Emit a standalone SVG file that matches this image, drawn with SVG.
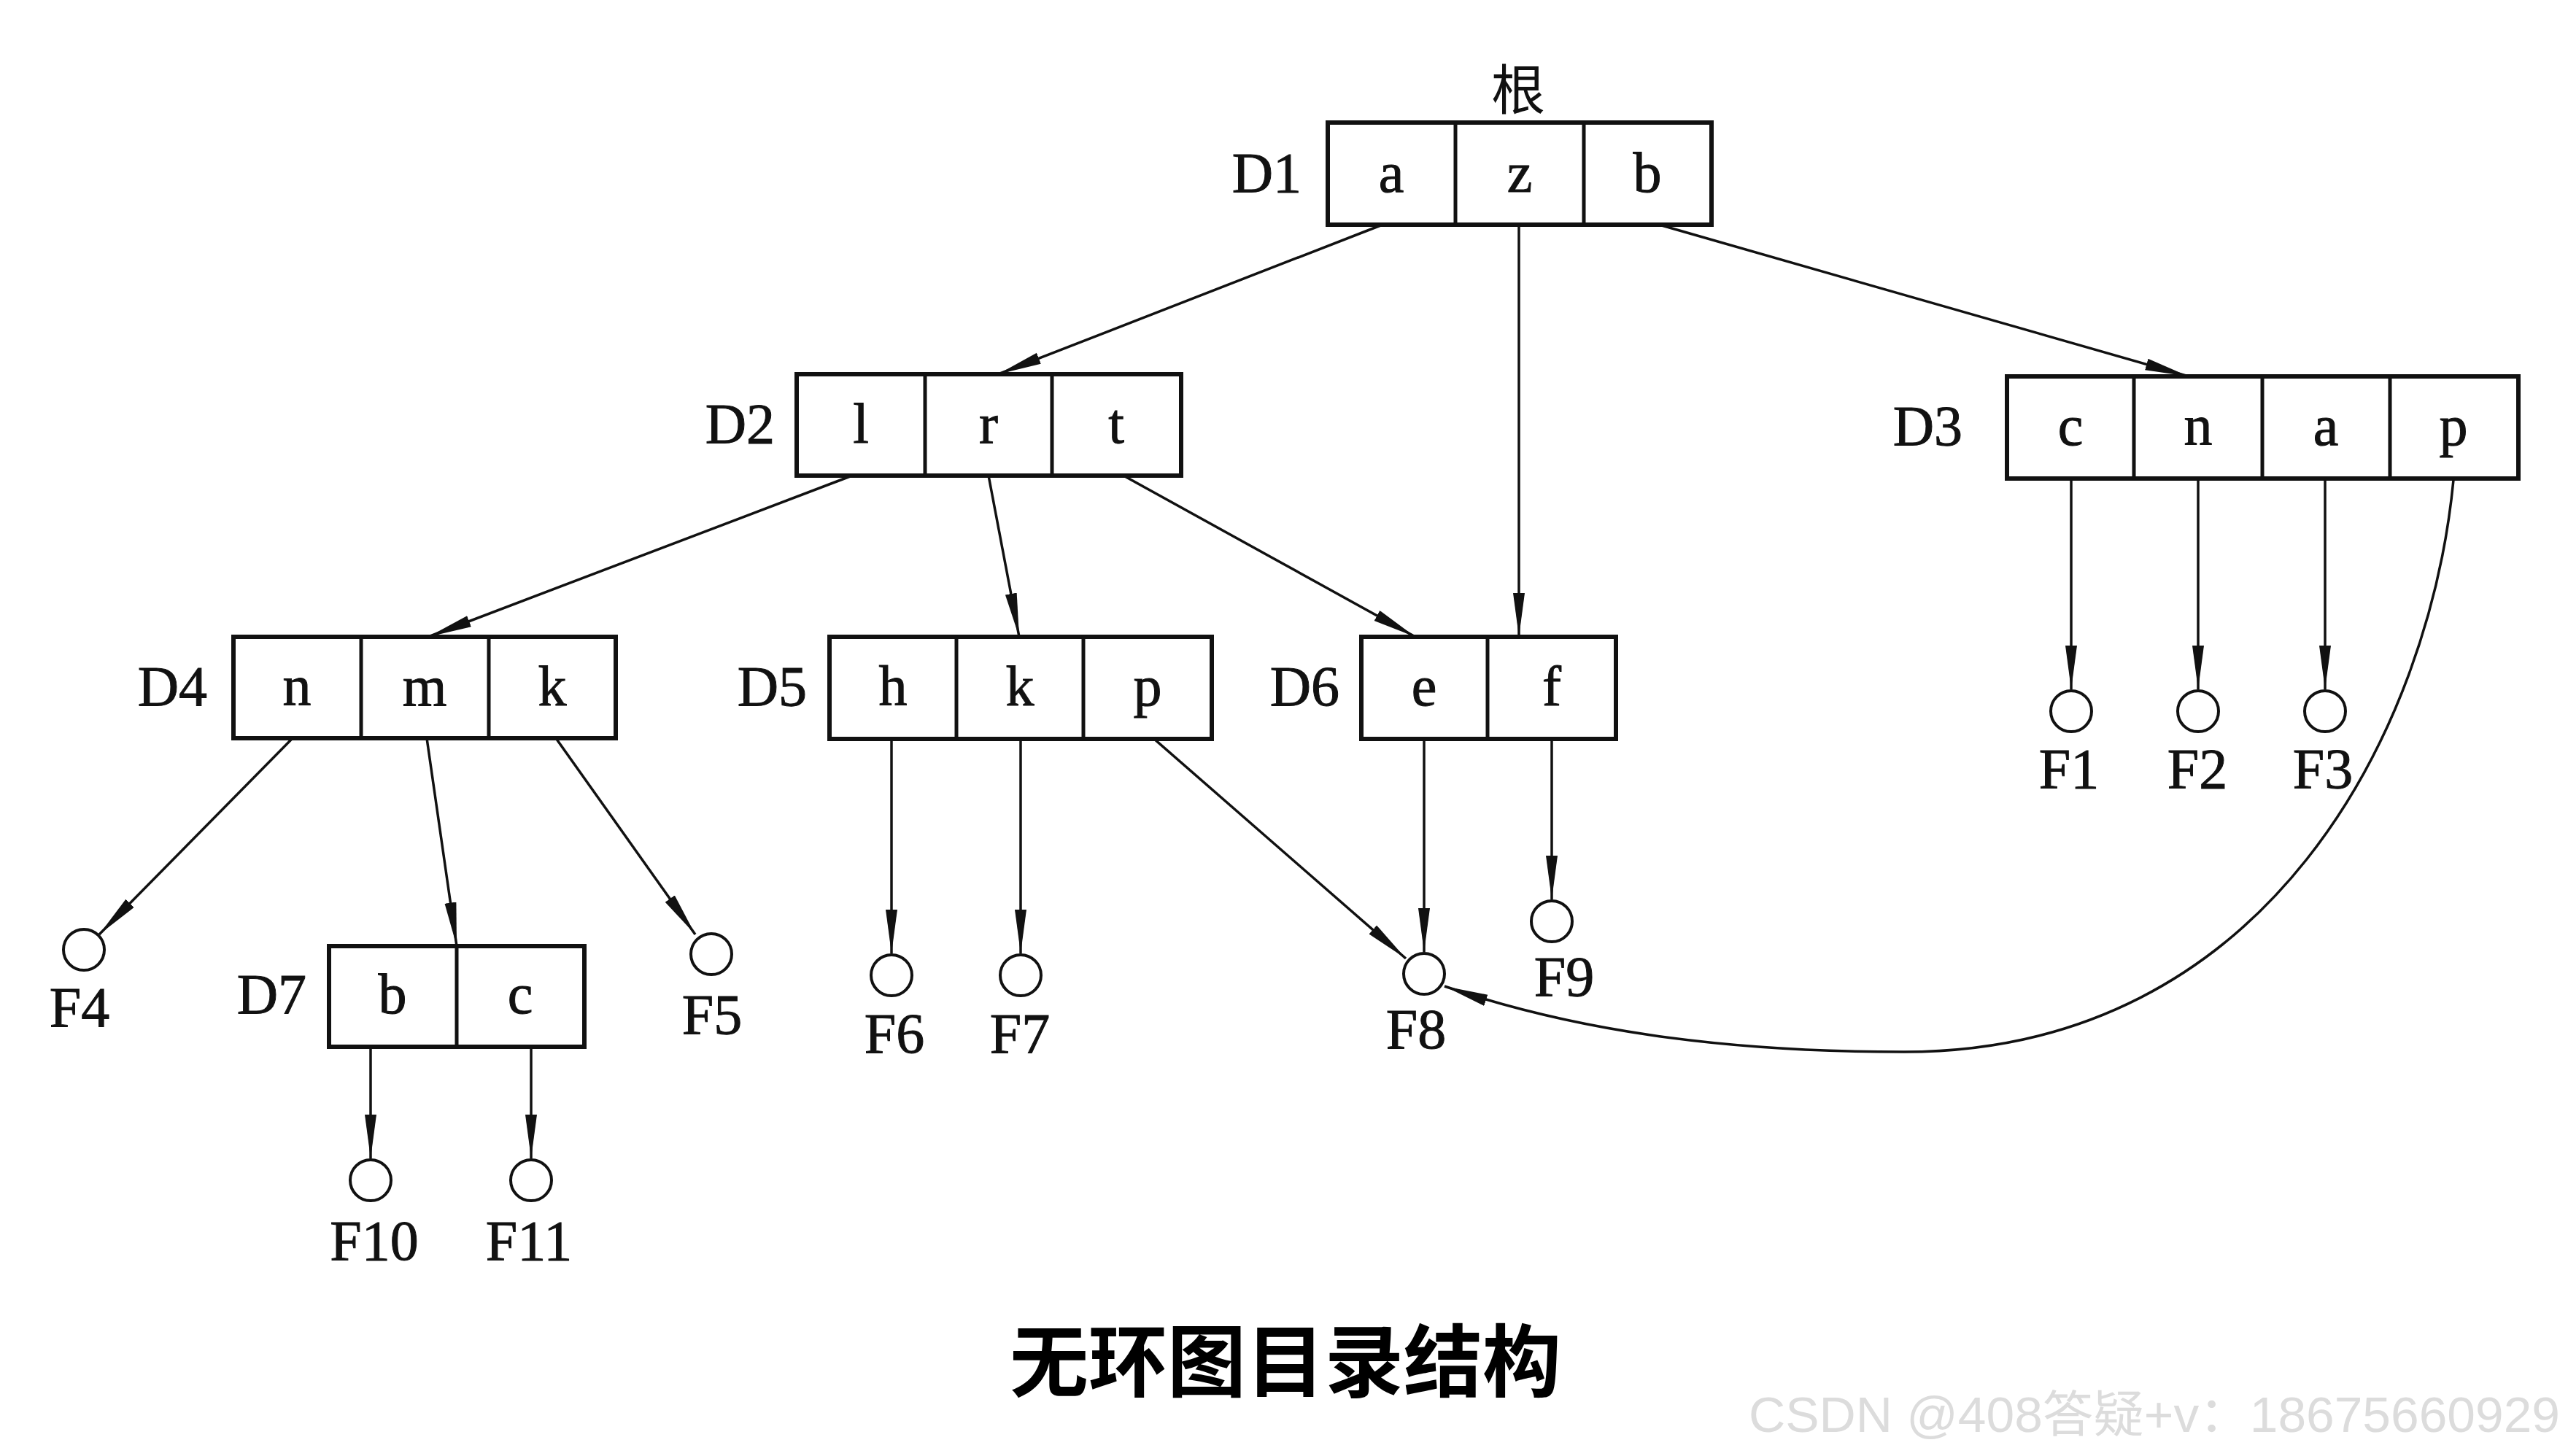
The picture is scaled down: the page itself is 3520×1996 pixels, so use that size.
<svg xmlns="http://www.w3.org/2000/svg" width="3520" height="1996" viewBox="0 0 3520 1996">
<style>
.box{fill:#fff;stroke:#111;stroke-width:6}
.div{stroke:#111;stroke-width:5}
.t{font-family:"Liberation Serif","Times New Roman",serif;font-size:78px;fill:#111;stroke:#111;stroke-width:1;text-anchor:middle}
.lbl{font-family:"Liberation Serif","Times New Roman",serif;font-size:78px;fill:#111;stroke:#111;stroke-width:1;text-anchor:end}
.file{fill:#fff;stroke:#111;stroke-width:4}
.edge{fill:none;stroke:#111;stroke-width:3.5;marker-end:url(#ah)}
.title{font-family:"Noto Sans CJK SC","Noto Sans",sans-serif;font-size:108px;font-weight:bold;fill:#000;text-anchor:middle}
.wm{font-family:"Liberation Sans","Noto Sans CJK SC",sans-serif;font-size:68px;fill:#dcdcdc}
</style>
<defs>
<marker id="ah" markerUnits="userSpaceOnUse" markerWidth="62" markerHeight="18" refX="60" refY="8" orient="auto">
<path d="M0,0 L60,8 L0,16 Z" fill="#111"/>
</marker>
</defs>
<rect width="3520" height="1996" fill="#fff"/>

<g id="connectors">
<path class="edge" d="M1895,308 L1368,513"/>
<path class="edge" d="M2082,308 L2082,873"/>
<path class="edge" d="M2274,308 L3000,516"/>
<path class="edge" d="M1168,652 L587,873"/>
<path class="edge" d="M1355,652 L1397,873"/>
<path class="edge" d="M1540,652 L1940,873"/>
<path class="edge" d="M401,1012 L136,1281"/>
<path class="edge" d="M585,1012 L626,1297"/>
<path class="edge" d="M762,1012 L953,1281"/>
<path class="edge" d="M1222,1013 L1222,1307"/>
<path class="edge" d="M1399,1013 L1399,1307"/>
<path class="edge" d="M1582,1013 L1927,1314"/>
<path class="edge" d="M1952,1013 L1952,1305"/>
<path class="edge" d="M2127,1013 L2127,1233"/>
<path class="edge" d="M2839,658 L2839,945"/>
<path class="edge" d="M3013,658 L3013,945"/>
<path class="edge" d="M3187,658 L3187,945"/>
<path class="edge" d="M508,1435 L508,1588"/>
<path class="edge" d="M728,1435 L728,1588"/>
<path class="edge" d="M3363,658 C3330,1000 3110,1442 2610,1442 C2350,1442 2150,1410 1980,1352"/>
</g>

<g id="D1">
<text x="2081" y="150" class="t" style="font-family:'Noto Sans CJK SC',sans-serif;font-size:74px;stroke-width:0">根</text>
<rect class="box" x="1820" y="168" width="526" height="140"/>
<line class="div" x1="1995" y1="168" x2="1995" y2="308"/>
<line class="div" x1="2171" y1="168" x2="2171" y2="308"/>
<text class="lbl" x="1784" y="263">D1</text>
<text class="t" x="1907" y="263">a</text>
<text class="t" x="2083" y="263">z</text>
<text class="t" x="2258" y="263">b</text>
</g>

<g id="D2">
<rect class="box" x="1092" y="513" width="527" height="139"/>
<line class="div" x1="1268" y1="513" x2="1268" y2="652"/>
<line class="div" x1="1442" y1="513" x2="1442" y2="652"/>
<text class="lbl" x="1062" y="607">D2</text>
<text class="t" x="1180" y="607">l</text>
<text class="t" x="1355" y="607">r</text>
<text class="t" x="1530" y="607">t</text>
</g>

<g id="D3">
<rect class="box" x="2751" y="516" width="701" height="140"/>
<line class="div" x1="2925" y1="516" x2="2925" y2="656"/>
<line class="div" x1="3101" y1="516" x2="3101" y2="656"/>
<line class="div" x1="3276" y1="516" x2="3276" y2="656"/>
<text class="lbl" x="2690" y="610">D3</text>
<text class="t" x="2838" y="610">c</text>
<text class="t" x="3013" y="610">n</text>
<text class="t" x="3188" y="610">a</text>
<text class="t" x="3363" y="610">p</text>
</g>

<g id="D4">
<rect class="box" x="320" y="873" width="524" height="139"/>
<line class="div" x1="495" y1="873" x2="495" y2="1012"/>
<line class="div" x1="670" y1="873" x2="670" y2="1012"/>
<text class="lbl" x="284" y="967">D4</text>
<text class="t" x="407" y="967">n</text>
<text class="t" x="582" y="967">m</text>
<text class="t" x="757" y="967">k</text>
</g>

<g id="D5">
<rect class="box" x="1137" y="873" width="524" height="140"/>
<line class="div" x1="1311" y1="873" x2="1311" y2="1013"/>
<line class="div" x1="1485" y1="873" x2="1485" y2="1013"/>
<text class="lbl" x="1106" y="967">D5</text>
<text class="t" x="1224" y="967">h</text>
<text class="t" x="1398" y="967">k</text>
<text class="t" x="1573" y="967">p</text>
</g>

<g id="D6">
<rect class="box" x="1866" y="873" width="349" height="140"/>
<line class="div" x1="2039" y1="873" x2="2039" y2="1013"/>
<text class="lbl" x="1836" y="967">D6</text>
<text class="t" x="1952" y="967">e</text>
<text class="t" x="2127" y="967">f</text>
</g>

<g id="D7">
<rect class="box" x="451" y="1297" width="350" height="138"/>
<line class="div" x1="626" y1="1297" x2="626" y2="1435"/>
<text class="lbl" x="420" y="1389">D7</text>
<text class="t" x="538" y="1389">b</text>
<text class="t" x="713" y="1389">c</text>
</g>

<g id="F1"><circle class="file" cx="2839" cy="975" r="28"/><text class="t" x="2836" y="1080">F1</text></g>
<g id="F2"><circle class="file" cx="3013" cy="975" r="28"/><text class="t" x="3012" y="1080">F2</text></g>
<g id="F3"><circle class="file" cx="3187" cy="975" r="28"/><text class="t" x="3184" y="1080">F3</text></g>
<g id="F4"><circle class="file" cx="115" cy="1302" r="28"/><text class="t" x="109" y="1407">F4</text></g>
<g id="F5"><circle class="file" cx="975" cy="1308" r="28"/><text class="t" x="976" y="1417">F5</text></g>
<g id="F6"><circle class="file" cx="1222" cy="1337" r="28"/><text class="t" x="1226" y="1443">F6</text></g>
<g id="F7"><circle class="file" cx="1399" cy="1337" r="28"/><text class="t" x="1398" y="1443">F7</text></g>
<g id="F8"><circle class="file" cx="1952" cy="1335" r="28"/><text class="t" x="1941" y="1437">F8</text></g>
<g id="F9"><circle class="file" cx="2127" cy="1263" r="28"/><text class="t" x="2144" y="1365">F9</text></g>
<g id="F10"><circle class="file" cx="508" cy="1618" r="28"/><text class="t" x="513" y="1727">F10</text></g>
<g id="F11"><circle class="file" cx="728" cy="1618" r="28"/><text class="t" x="725" y="1727">F11</text></g>

<text class="title" x="1762" y="1906">无环图目录结构</text>
<text class="wm" x="2397" y="1963" textLength="1112" lengthAdjust="spacingAndGlyphs">CSDN @408答疑+v：18675660929</text>
</svg>
